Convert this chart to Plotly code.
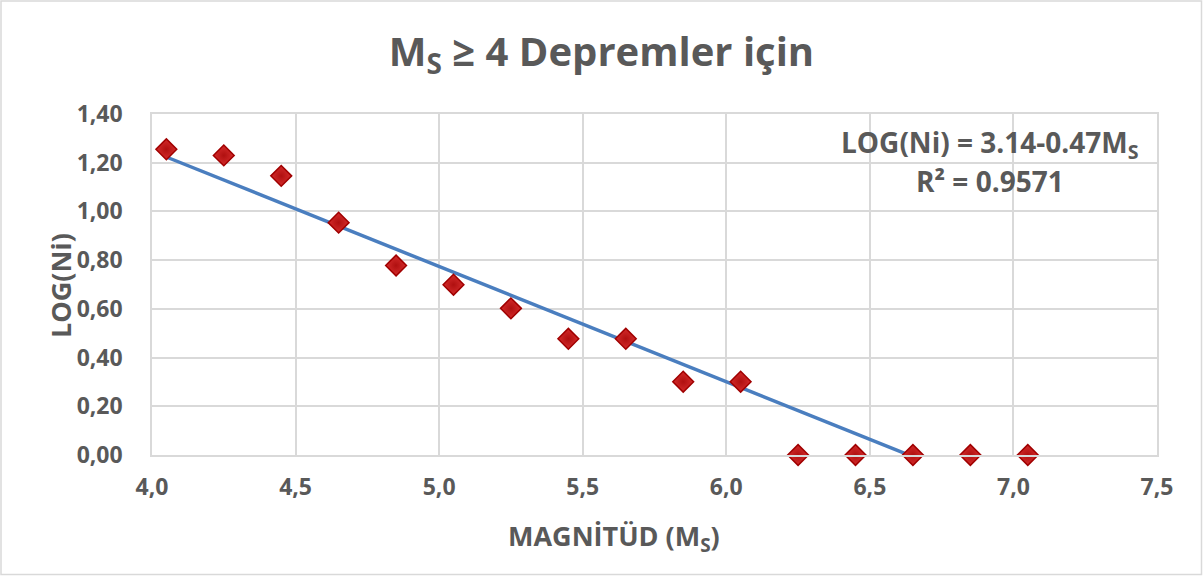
import numpy as np
import plotly.graph_objects as go

# Data
magnitude = [4.05, 4.25, 4.45, 4.65, 4.85, 5.05, 5.25, 5.45, 5.65, 5.85, 6.05, 6.25, 6.45, 6.65, 6.85, 7.05]
log_ni = [1.255, 1.230, 1.146, 0.954, 0.778, 0.699, 0.602, 0.477, 0.477, 0.301, 0.301, 0.0, 0.0, 0.0, 0.0, 0.0]
x_ticks = [4.0, 4.5, 5.0, 5.5, 6.0, 6.5, 7.0, 7.5]
y_ticks = [0.0, 0.2, 0.4, 0.6, 0.8, 1.0, 1.2, 1.4]

title_text = "M<sub>S</sub> ≥ 4 Depremler için"
x_title = "MAGNİTÜD (M<sub>S</sub>)"
y_title = "LOG(Ni)"
eq_text = "LOG(Ni) = 3.14-0.47M<sub>S</sub>"
r2_text = "R² = 0.9571"

# Linear trend fitted on the data
slope, intercept = np.polyfit(magnitude, log_ni, 1)
trend_x = [min(magnitude), max(magnitude)]
trend_y = [intercept + slope * v for v in trend_x]

FONT = "Open Sans"
TXT = "#595959"
GRID = "#D9D9D9"

W, H = 1203, 576
ml, mr, mt, mb = 152, 46, 114, 121
pw, ph = W - ml - mr, H - mt - mb


def px(xp):
    return (xp - ml) / pw


def py(yp):
    return 1 - (yp - mt) / ph


fig = go.Figure()
fig.add_trace(go.Scatter(
    x=trend_x, y=trend_y, mode="lines",
    line=dict(color="#4A7EBF", width=3.5),
    showlegend=False, hoverinfo="skip"))
fig.add_trace(go.Scatter(
    x=magnitude, y=log_ni, mode="markers",
    marker=dict(symbol="diamond", size=16, color="#D42B2B",
                line=dict(color="#A00000", width=1.5),
                gradient=dict(type="radial", color="#B01010")),
    cliponaxis=False, showlegend=False))

fig.update_layout(
    width=W, height=H,
    margin=dict(l=ml, r=mr, t=mt, b=mb),
    paper_bgcolor="white", plot_bgcolor="white",
    font=dict(family=FONT, color=TXT),
    title=dict(text="<b>" + title_text + "</b>", x=0.5, xanchor="center",
               y=1 - 52 / H, yanchor="middle",
               font=dict(family=FONT, size=40, color=TXT)),
    xaxis=dict(range=[4.0, 7.5], tickmode="array", tickvals=x_ticks,
               ticktext=["<b>" + f"{v:.1f}".replace(".", ",") + "</b>" for v in x_ticks],
               showgrid=True, gridcolor=GRID, gridwidth=1.5,
               showline=True, linecolor=GRID, linewidth=1.5, mirror=True,
               zeroline=False, ticks="", ticklabelstandoff=11,
               tickfont=dict(family=FONT, size=23, color=TXT)),
    yaxis=dict(range=[0, 1.4], tickmode="array", tickvals=y_ticks,
               ticktext=["<b>" + f"{v:.2f}".replace(".", ",") + "</b>" for v in y_ticks],
               showgrid=True, gridcolor=GRID, gridwidth=1.5,
               showline=True, linecolor=GRID, linewidth=1.5, mirror=True,
               zeroline=False, ticks="", ticklabelstandoff=23,
               tickfont=dict(family=FONT, size=23, color=TXT)),
)

# axis titles
fig.add_annotation(x=px(614), y=py(537), xref="paper", yref="paper",
                   text="<b>" + x_title + "</b>", showarrow=False,
                   font=dict(family=FONT, size=27, color=TXT),
                   xanchor="center", yanchor="middle")
fig.add_annotation(x=px(60), y=py(286), xref="paper", yref="paper",
                   text="<b>" + y_title + "</b>", showarrow=False, textangle=-90,
                   font=dict(family=FONT, size=27, color=TXT),
                   xanchor="center", yanchor="middle")

# trendline labels
fig.add_annotation(x=px(990), y=py(144), xref="paper", yref="paper",
                   text="<b>" + eq_text + "</b>", showarrow=False,
                   font=dict(family=FONT, size=28, color=TXT), xanchor="center", yanchor="middle")
fig.add_annotation(x=px(990), y=py(181), xref="paper", yref="paper",
                   text="<b>" + r2_text + "</b>", showarrow=False,
                   font=dict(family=FONT, size=28, color=TXT), xanchor="center", yanchor="middle")

# outer chart border
fig.add_shape(type="rect", xref="paper", yref="paper",
              x0=px(1), x1=px(W - 1.5), y0=py(1), y1=py(H - 1.5),
              line=dict(color="#D9D9D9", width=1.5), layer="below")

fig.write_html("out.html")
